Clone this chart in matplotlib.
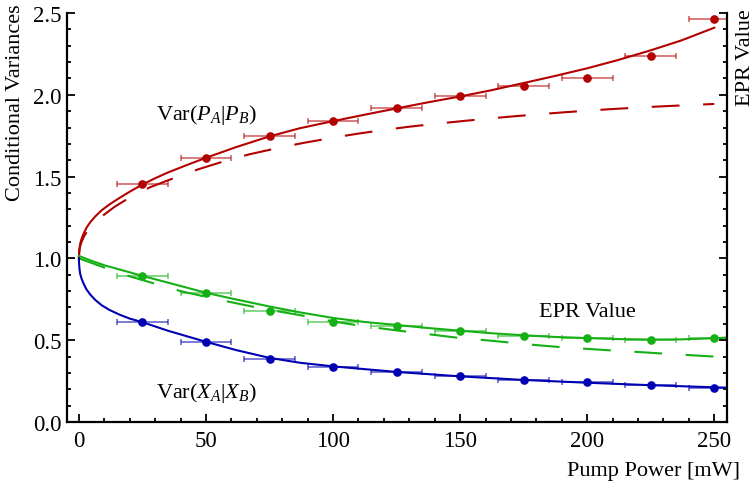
import matplotlib
matplotlib.use("Agg")
import matplotlib.pyplot as plt
from matplotlib.ticker import MultipleLocator

plt.rcParams["font.family"] = ["Liberation Serif", "DejaVu Serif"]
plt.rcParams["mathtext.fontset"] = "custom"
plt.rcParams["mathtext.rm"] = "Liberation Serif"
plt.rcParams["mathtext.it"] = "Liberation Serif:italic"
plt.rcParams["lines.scale_dashes"] = False

# Measured conditional variances vs pump power
pump = [25, 50, 75, 100, 125, 150, 175, 200, 225, 250]
pump_err = [10, 10, 10, 10, 10, 10, 10, 10, 10, 10]
var_p = [1.455, 1.614, 1.747, 1.838, 1.917, 1.990, 2.052, 2.103, 2.239, 2.463]
var_x = [0.612, 0.489, 0.387, 0.336, 0.306, 0.279, 0.257, 0.245, 0.224, 0.210]
epr = [0.892, 0.790, 0.680, 0.614, 0.587, 0.554, 0.526, 0.512, 0.501, 0.515]

# Fitted curves (solid)
fit_p_x = [0, 0.02, 0.1, 0.25, 0.5, 1, 1.8, 3, 4.5, 6.5, 9, 12, 16, 20, 25, 30,
           35, 42, 50, 62, 75, 87, 100, 112, 125, 137, 150, 162, 175, 187, 200,
           212, 225, 237, 250]
fit_p_y = [1.0, 1.02, 1.042, 1.065, 1.09, 1.118, 1.15, 1.188, 1.222, 1.258,
           1.295, 1.33, 1.37, 1.408, 1.452, 1.49, 1.525, 1.568, 1.615, 1.681,
           1.746, 1.796, 1.839, 1.877, 1.917, 1.953, 1.99, 2.027, 2.072, 2.114,
           2.162, 2.212, 2.272, 2.332, 2.41]
fit_x_x = [0, 0.02, 0.1, 0.25, 0.5, 1, 1.8, 3, 4.5, 6.5, 9, 12, 16, 20, 25, 35,
           50, 62, 75, 87, 100, 125, 150, 175, 200, 225, 250, 255]
fit_x_y = [1.0, 0.98, 0.956, 0.931, 0.905, 0.878, 0.846, 0.81, 0.778, 0.745,
           0.713, 0.685, 0.656, 0.632, 0.610, 0.558, 0.490, 0.439, 0.392, 0.362,
           0.340, 0.306, 0.279, 0.257, 0.240, 0.225, 0.212, 0.210]
fit_e_x = [0, 5, 10, 25, 35, 50, 60, 75, 87, 100, 112, 125, 137, 150, 162, 175,
           187, 200, 212, 225, 237, 250, 255]
fit_e_y = [1.015, 0.985, 0.958, 0.893, 0.852, 0.79, 0.755, 0.706, 0.670, 0.636,
           0.612, 0.593, 0.575, 0.558, 0.543, 0.530, 0.520, 0.513, 0.507, 0.504,
           0.505, 0.512, 0.516]

# Theoretical predictions (dashed)
th_p_x = [0, 0.02, 0.1, 0.25, 0.5, 1, 2, 3, 4.5, 6.5, 9.7, 14, 19, 28, 35, 47,
          58, 67, 78, 88, 100, 110, 120, 130, 140, 150, 160, 170, 180, 190, 200,
          210, 220, 230, 240, 250]
th_p_y = [1.0, 1.015, 1.035, 1.055, 1.075, 1.10, 1.135, 1.16, 1.19, 1.223,
          1.265, 1.315, 1.363, 1.435, 1.477, 1.545, 1.598, 1.636, 1.674, 1.705,
          1.738, 1.763, 1.785, 1.805, 1.822, 1.838, 1.853, 1.867, 1.88, 1.892,
          1.903, 1.913, 1.922, 1.93, 1.937, 1.944]
th_e_x = [0, 10, 20, 30, 40, 50, 60, 70, 80, 90, 100, 110, 120, 130, 140, 150,
          160, 170, 180, 190, 200, 210, 220, 230, 240, 250]
th_e_y = [1.0, 0.944, 0.89, 0.845, 0.80, 0.765, 0.732, 0.70, 0.672, 0.645, 0.615,
          0.59, 0.57, 0.55, 0.532, 0.513, 0.50, 0.485, 0.47, 0.457, 0.447, 0.437,
          0.428, 0.418, 0.409, 0.40]

x_ticks = [0, 50, 100, 150, 200, 250]
y_ticks = [0.0, 0.5, 1.0, 1.5, 2.0, 2.5]

RED = "#b30000"
GREEN = "#14b014"
BLUE = "#0000b3"

fig = plt.figure(figsize=(7.56, 4.85), dpi=100)
ax = fig.add_axes([67 / 756, 1 - 423 / 485, 660 / 756, 409 / 485])

dash = (0, (20, 17))
lw = 1.5
ax.plot(th_p_x, th_p_y, color=RED, lw=lw, linestyle=dash)
ax.plot(th_e_x, th_e_y, color=GREEN, lw=lw, linestyle=dash)
ax.plot(fit_p_x, fit_p_y, color=RED, lw=lw)
ax.plot(fit_e_x, fit_e_y, color=GREEN, lw=lw)
ax.plot(fit_x_x, fit_x_y, color=BLUE, lw=lw)

for vals, col in ((var_p, RED), (epr, GREEN), (var_x, BLUE)):
    ax.errorbar(pump, vals, xerr=pump_err, fmt="none", ecolor=col, alpha=0.6,
                elinewidth=1.2, capsize=2.5, capthick=1.2)
    ax.plot(pump, vals, "o", color=col, markersize=5.2, zorder=5)

ax.set_xlim(-4.7, 255)
ax.set_ylim(0, 2.5)
ax.set_xticks(x_ticks)
ax.set_xticklabels([str(v) for v in x_ticks])
ax.set_yticks(y_ticks)
ax.set_yticklabels([f"{v:.1f}" for v in y_ticks])
ax.xaxis.set_minor_locator(MultipleLocator(10))
ax.yaxis.set_minor_locator(MultipleLocator(0.1))

ax.spines["top"].set_visible(False)
for s in ("left", "right", "bottom"):
    ax.spines[s].set_linewidth(1.6)
ax.tick_params(which="both", direction="in", left=True, right=True,
               bottom=True, top=False, labelright=False, width=1.3)
ax.tick_params(which="major", length=5.5)
ax.tick_params(which="minor", length=3)
ax.tick_params(axis="y", labelsize=16.5, pad=4)
ax.tick_params(axis="x", labelsize=16.5, pad=6)

ax.text(50, 1.852, r"Var$(P_A|P_B)$", fontsize=16, ha="center", va="baseline")
ax.text(50, 0.150, r"Var$(X_A|X_B)$", fontsize=16, ha="center", va="baseline")
ax.text(200, 0.648, "EPR Value", fontsize=16, ha="center", va="baseline")

fig.text(16 / 756, 1 - 4 / 485, "Conditional Variances", fontsize=16,
         rotation=90, ha="center", va="top")
fig.text(745 / 756, 1 - 9 / 485, "EPR Value", fontsize=16,
         rotation=90, ha="center", va="top")
fig.text(740 / 756, 1 - 476 / 485, "Pump Power [mW]", fontsize=16,
         ha="right", va="baseline")

fig.savefig("out.png", dpi=100)
